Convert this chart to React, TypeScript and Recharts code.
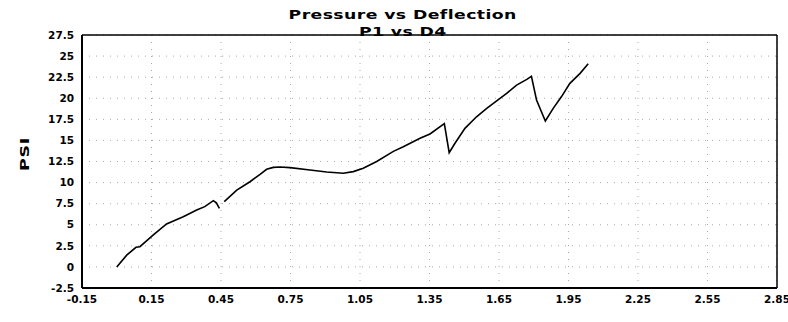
import {
  CartesianGrid,
  Line,
  LineChart,
  ReferenceLine,
  XAxis,
  YAxis,
} from "recharts";

const deflection = [
  0.0, 0.043, 0.083, 0.1, 0.158, 0.215, 0.287, 0.345, 0.38, 0.417, 0.43, 0.443,
  0.453, 0.464, 0.518, 0.575, 0.62, 0.647, 0.676, 0.705, 0.748, 0.834, 0.906,
  0.978, 1.021, 1.064, 1.122, 1.194, 1.237, 1.309, 1.352, 1.414, 1.435, 1.46,
  1.503, 1.553, 1.597, 1.64, 1.683, 1.726, 1.77, 1.79, 1.812, 1.85, 1.884,
  1.92, 1.956, 2.0, 2.035,
];

const psi: (number | null)[] = [
  0, 1.4, 2.33, 2.4, 3.8, 5.1, 5.96, 6.75, 7.15, 7.86, 7.6, 6.95,
  null, 7.74, 9.1, 10.1, 11.0, 11.57, 11.8, 11.85, 11.77, 11.5, 11.26,
  11.1, 11.3, 11.7, 12.5, 13.7, 14.25, 15.25, 15.76, 17.0, 13.54, 14.66,
  16.43, 17.8, 18.8, 19.7, 20.57, 21.56, 22.24, 22.6, 19.8, 17.3, 18.8,
  20.2, 21.77, 22.95, 24.1,
];

const xTicks = [-0.15, 0.15, 0.45, 0.75, 1.05, 1.35, 1.65, 1.95, 2.25, 2.55, 2.85];
const yTicks = [-2.5, 0, 2.5, 5, 7.5, 10, 12.5, 15, 17.5, 20, 22.5, 25, 27.5];

const data = deflection.map((d, i) => ({ d, p: psi[i] }));

const tickStyle = {
  fontFamily: "'DejaVu Sans', sans-serif",
  fontWeight: 700,
  fontSize: 10.5,
  fill: "#000",
};

const titleLine = {
  display: "inline-block",
  transform: "scaleX(1.38)",
  letterSpacing: 0.3,
};

export default function App() {
  return (
    <div style={{ position: "relative", width: 788, height: 322, background: "#fff" }}>
      <style>{`body{margin:0}`}</style>
      <div
        style={{
          position: "absolute",
          left: 0,
          width: 806,
          top: 6,
          textAlign: "center",
          fontFamily: "'DejaVu Sans', sans-serif",
          fontWeight: 700,
          fontSize: 12.5,
          lineHeight: "17px",
          zIndex: 2,
        }}
      >
        <div><span style={titleLine}>Pressure vs Deflection</span></div>
        <div><span style={titleLine}>P1 vs D4</span></div>
      </div>
      <div
        style={{
          position: "absolute",
          left: 24,
          top: 154,
          transform: "translate(-50%, -50%) rotate(-90deg) scaleX(1.4)",
          fontFamily: "'DejaVu Sans', sans-serif",
          fontWeight: 700,
          fontSize: 12.5,
          letterSpacing: 0.5,
        }}
      >
        PSI
      </div>
      <LineChart
        width={788}
        height={322}
        data={data}
        margin={{ top: 35, right: 11, bottom: 10, left: 22 }}
      >
        <CartesianGrid stroke="#aaa" strokeDasharray="1 6" />
        <XAxis
          type="number"
          dataKey="d"
          domain={[-0.15, 2.85]}
          ticks={xTicks}
          tickFormatter={(v) => Number(v).toFixed(2)}
          height={24}
          axisLine={{ stroke: "#000", strokeWidth: 2 }}
          tickLine={false}
          tick={tickStyle}
          interval={0}
        />
        <YAxis
          type="number"
          domain={[-2.5, 27.5]}
          ticks={yTicks}
          width={60}
          axisLine={{ stroke: "#000", strokeWidth: 2 }}
          tickLine={false}
          tick={tickStyle}
          interval={0}
        />
        <ReferenceLine x={2.85} stroke="#000" strokeWidth={1.5} />
        <ReferenceLine y={27.5} stroke="#000" strokeWidth={1.5} />
        <Line
          type="linear"
          dataKey="p"
          stroke="#000"
          strokeWidth={1.6}
          dot={false}
          connectNulls={false}
          isAnimationActive={false}
        />
      </LineChart>
    </div>
  );
}
